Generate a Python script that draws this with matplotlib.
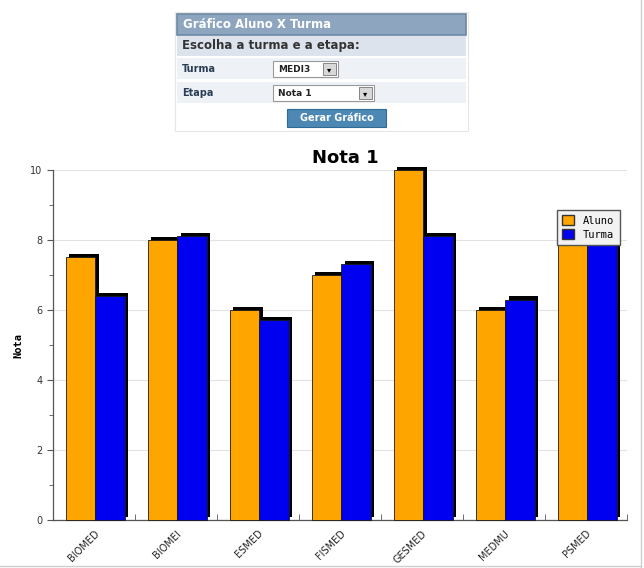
import numpy as np
import matplotlib
matplotlib.use("Agg")
import matplotlib.pyplot as plt
from matplotlib.patches import Rectangle, Patch

# dados del grafico
turmas = ["BIOMED", "BIOMEI", "ESMED", "FISMED", "GESMED", "MEDMU", "PSMED"]
aluno = [7.5, 8.0, 6.0, 7.0, 10.0, 6.0, 8.0]
turma = [6.4, 8.1, 5.7, 7.3, 8.1, 6.3, 8.0]
titulo = "Nota 1"

W, H = 644, 568
fig = plt.figure(figsize=(W / 100, H / 100), dpi=100)
fig.patch.set_facecolor("white")


def fx(px):
    return px / W


def fy(py):
    return 1 - py / H


def caixa(x0, y0, x1, y1, **kw):
    # retangulo em pixels (origem no canto superior esquerdo)
    r = Rectangle((fx(x0), fy(y1)), fx(x1) - fx(x0), fy(y0) - fy(y1),
                  transform=fig.transFigure, **kw)
    fig.add_artist(r)
    return r


# ---------------- formulario no topo ----------------
caixa(175, 12, 468, 131, facecolor="white", edgecolor="#e6e6e6", lw=0.8)
caixa(177, 14, 466, 35, facecolor="#8ea5bf", edgecolor="#6c86a4", lw=1.2)
fig.text(fx(183), fy(25), "Gráfico Aluno X Turma", color="white",
         fontsize=8.5, fontweight="bold", va="center")
caixa(177, 36, 466, 56, facecolor="#dde3ec", edgecolor="none")
fig.text(fx(182), fy(46), "Escolha a turma e a etapa:", color="#333333",
         fontsize=8.5, fontweight="bold", va="center")
for y0, lab in [(58, "Turma"), (82, "Etapa")]:
    caixa(177, y0, 466, y0 + 21, facecolor="#eef1f5", edgecolor="none")
    fig.text(fx(182), fy(y0 + 10.5), lab, color="#2b3d54", fontsize=7,
             fontweight="bold", va="center")
# selects
for x0, x1, y0, txt in [(273, 338, 61, "MEDI3"), (273, 374, 85, "Nota 1")]:
    caixa(x0, y0, x1, y0 + 16, facecolor="white", edgecolor="#9a9a9a", lw=0.8)
    fig.text(fx(x0 + 5), fy(y0 + 8), txt, color="#222222", fontsize=6.5,
             fontweight="bold", va="center")
    caixa(x1 - 15, y0 + 2, x1 - 2, y0 + 14, facecolor="#d8d8d8",
          edgecolor="#777777", lw=0.6)
    fig.text(fx(x1 - 8.5), fy(y0 + 8.5), "\u25be", color="black", fontsize=6,
             ha="center", va="center")
# botao
caixa(287, 109, 386, 127, facecolor="#4d88b5", edgecolor="#2f6a95", lw=0.8)
fig.text(fx(336.5), fy(118), "Gerar Gráfico", color="white", fontsize=7,
         fontweight="bold", ha="center", va="center")

# moldura da pagina
fig.add_artist(plt.Line2D([fx(641), fx(641)], [0, 1],
                          transform=fig.transFigure, color="#cfcfcf", lw=1))
fig.add_artist(plt.Line2D([0, fx(641)], [fy(566), fy(566)],
                          transform=fig.transFigure, color="#cfcfcf", lw=1))

# ---------------- grafico ----------------
ax = fig.add_axes([fx(53), fy(520), fx(627) - fx(53), fy(170) - fy(520)])
x = np.arange(len(turmas))
larg = 0.36
dx, dy = 0.045, 0.09  # sombra 3D

for xs, vals, cor in [(x - 0.165, aluno, "#FFA500"), (x + 0.195, turma, "#0000F0")]:
    ax.bar(xs + dx, vals, width=larg, bottom=dy,
           color="black", zorder=2, clip_on=False)
    ax.bar(xs, vals, width=larg, color=cor, edgecolor="#1a1a1a",
           linewidth=0.6, zorder=3, clip_on=False)

ax.set_xlim(-0.5, len(turmas) - 0.5)
ax.set_ylim(0, 10)
ax.set_yticks(np.arange(0, 11, 2))
ax.set_yticks(np.arange(1, 10, 2), minor=True)
ax.yaxis.grid(True, color="#e2e2e2", lw=0.8, zorder=0)
ax.set_axisbelow(True)

ax.set_xticks(x)
ax.set_xticklabels(turmas, rotation=45, ha="right", rotation_mode="anchor",
                   fontsize=7, color="#222222")
for t in ax.get_xticklabels():
    t.set_x(0)
ax.set_xticks(x + 0.5, minor=True)
ax.tick_params(axis="x", which="major", length=0, pad=6)
ax.tick_params(axis="x", which="minor", length=4, direction="in", color="#555555")
ax.tick_params(axis="y", which="major", length=4, color="#555555",
               labelsize=7, labelcolor="#333333")
ax.tick_params(axis="y", which="minor", length=3, color="#555555")

for s in ["top", "right"]:
    ax.spines[s].set_visible(False)
for s in ["left", "bottom"]:
    ax.spines[s].set_color("#555555")
    ax.spines[s].set_linewidth(0.9)

fig.text(fx(18), fy(345), "Nota", fontsize=7.5, fontweight="bold",
         family="DejaVu Sans Mono", rotation=90, ha="center", va="center")
fig.text(fx(345), fy(158), titulo, fontsize=13, fontweight="bold",
         ha="center", va="center")

handles = [Patch(facecolor="#FFA500", edgecolor="#333333", label="Aluno"),
           Patch(facecolor="#0000F0", edgecolor="#333333", label="Turma")]
leg = fig.legend(handles=handles, loc="upper left",
                 bbox_to_anchor=(fx(557), fy(210)), frameon=True,
                 fancybox=False, shadow=False,
                 prop={"family": "DejaVu Sans Mono", "size": 7.5},
                 handlelength=1.1, handleheight=1.1, handletextpad=0.9,
                 borderpad=0.5, labelspacing=0.35, borderaxespad=0)
leg.get_frame().set_facecolor("#f2f2f2")
leg.get_frame().set_edgecolor("#555555")
leg.get_frame().set_alpha(1)
leg.set_zorder(10)

plt.savefig("out.png", dpi=100)
